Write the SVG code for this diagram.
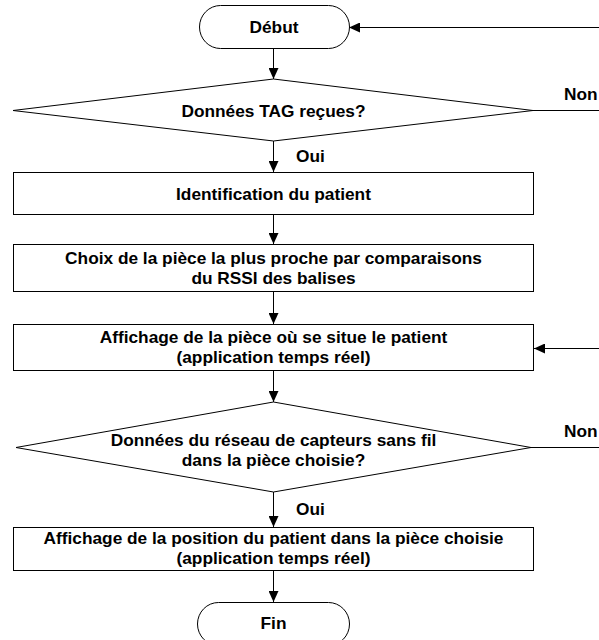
<svg xmlns="http://www.w3.org/2000/svg" width="599" height="640" viewBox="0 0 599 640">
<style>
.s{fill:#fff;stroke:#000;stroke-width:1}
.t{font-family:"Liberation Sans",Arial,sans-serif;font-weight:bold;font-size:17.3px;fill:#000;text-anchor:middle}
.l{font-family:"Liberation Sans",Arial,sans-serif;font-weight:bold;font-size:17.3px;fill:#000}
.c{fill:none;stroke:#000;stroke-width:1}
</style>
<defs>
<marker id="a" markerUnits="userSpaceOnUse" markerWidth="12" markerHeight="10" refX="11" refY="5" orient="auto">
<path d="M0,0 L11,5 L0,10 z" fill="#000"/>
</marker>
</defs>
<g id="connectors">
<line class="c" x1="273.5" y1="48" x2="273.5" y2="79" marker-end="url(#a)"/>
<line class="c" x1="599" y1="27.5" x2="349" y2="27.5" marker-end="url(#a)"/>
<line class="c" x1="533" y1="110.5" x2="599" y2="110.5"/>
<line class="c" x1="273.5" y1="141" x2="273.5" y2="172" marker-end="url(#a)"/>
<line class="c" x1="273.5" y1="214" x2="273.5" y2="244" marker-end="url(#a)"/>
<line class="c" x1="273.5" y1="292" x2="273.5" y2="324" marker-end="url(#a)"/>
<line class="c" x1="599" y1="348.5" x2="534" y2="348.5" marker-end="url(#a)"/>
<line class="c" x1="273.5" y1="371" x2="273.5" y2="402" marker-end="url(#a)"/>
<line class="c" x1="531" y1="447.5" x2="599" y2="447.5"/>
<line class="c" x1="273.5" y1="492" x2="273.5" y2="527" marker-end="url(#a)"/>
<line class="c" x1="273.5" y1="571" x2="273.5" y2="602" marker-end="url(#a)"/>
<text class="l" x="564" y="100">Non</text>
<text class="l" x="296" y="162">Oui</text>
<text class="l" x="564" y="437">Non</text>
<text class="l" x="296" y="515">Oui</text>
</g>
<g id="debut">
<rect class="s" x="199.5" y="5.5" width="150" height="43" rx="21" ry="21.5"/>
<text class="t" x="274" y="32.5">Début</text>
</g>
<g id="donnees-tag">
<polygon class="s" points="13,110.5 273.5,79 533,110.5 273.5,141"/>
<text class="t" x="273.5" y="116.5">Données TAG reçues?</text>
</g>
<g id="identification">
<rect class="s" x="13.5" y="172.5" width="520" height="42"/>
<text class="t" x="273.5" y="199.5">Identification du patient</text>
</g>
<g id="choix">
<rect class="s" x="13.5" y="244.5" width="520" height="47"/>
<text class="t" x="273.5" y="264">Choix de la pièce la plus proche par comparaisons</text>
<text class="t" x="273.5" y="284">du RSSI des balises</text>
</g>
<g id="affichage-piece">
<rect class="s" x="13.5" y="324.5" width="520" height="46"/>
<text class="t" x="273.5" y="343">Affichage de la pièce où se situe le patient</text>
<text class="t" x="273.5" y="363">(application temps réel)</text>
</g>
<g id="donnees-reseau">
<polygon class="s" points="16,447.5 273.5,402 531,447.5 273.5,492"/>
<text class="t" x="273.5" y="446">Données du réseau de capteurs sans fil</text>
<text class="t" x="273.5" y="466">dans la pièce choisie?</text>
</g>
<g id="affichage-position">
<rect class="s" x="13.5" y="527.5" width="520" height="43"/>
<text class="t" x="273.5" y="543.5">Affichage de la position du patient dans la pièce choisie</text>
<text class="t" x="273.5" y="564">(application temps réel)</text>
</g>
<g id="fin">
<rect class="s" x="197.5" y="602.5" width="152" height="43" rx="21" ry="21.5"/>
<text class="t" x="273.5" y="629">Fin</text>
</g>
</svg>
